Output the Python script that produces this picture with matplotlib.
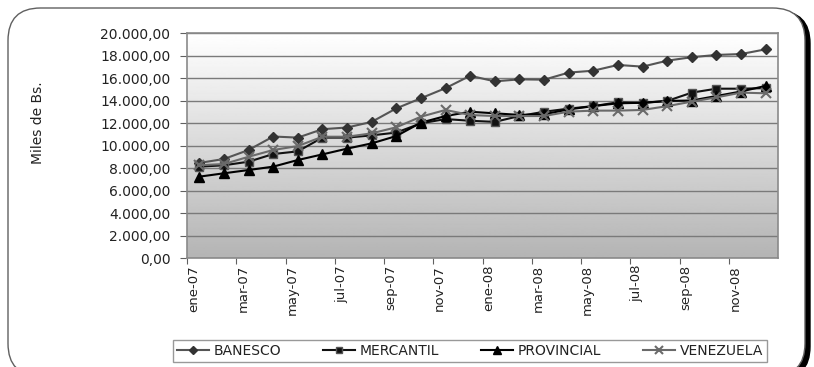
import numpy as np
import matplotlib.pyplot as plt
from matplotlib.patches import FancyBboxPatch
from matplotlib.ticker import FuncFormatter

# months ene-07 .. dic-08
meses = ['ene-07', 'feb-07', 'mar-07', 'abr-07', 'may-07', 'jun-07',
         'jul-07', 'ago-07', 'sep-07', 'oct-07', 'nov-07', 'dic-07',
         'ene-08', 'feb-08', 'mar-08', 'abr-08', 'may-08', 'jun-08',
         'jul-08', 'ago-08', 'sep-08', 'oct-08', 'nov-08', 'dic-08']

banesco = [8450, 8800, 9600, 10800, 10700, 11450, 11600, 12100, 13300, 14200,
           15100, 16200, 15700, 15880, 15850, 16480, 16650, 17160, 17010, 17540,
           17850, 18050, 18130, 18550]
mercantil = [8120, 8240, 8560, 9240, 9480, 10700, 10700, 10900, 11150, 11970,
             12350, 12200, 12100, 12620, 13000, 13280, 13500, 13840, 13780, 13960,
             14700, 15050, 15050, 15100]
provincial = [7230, 7530, 7820, 8120, 8710, 9210, 9720, 10190, 10840, 12030,
              12620, 13000, 12860, 12720, 12770, 13210, 13500, 13750, 13800, 13960,
              14000, 14400, 14800, 15300]
venezuela = [8250, 8350, 9000, 9600, 9950, 10780, 10780, 11080, 11620, 12560,
             13160, 12710, 12620, 12620, 12620, 13010, 13100, 13100, 13160, 13500,
             13900, 14280, 14700, 14640]

fig = plt.figure(figsize=(8.14, 3.67), dpi=100)

# rounded outer frame with dark shadow, kept behind the axes
shadow = FancyBboxPatch((11 / 814, -12 / 367), 799 / 814, 368 / 367,
                        boxstyle="round,pad=0,rounding_size=0.04",
                        transform=fig.transFigure, facecolor='black',
                        edgecolor='black', lw=1, mutation_aspect=814 / 367, zorder=-3)
frame = FancyBboxPatch((8 / 814, -9 / 367), 797 / 814, 368 / 367,
                       boxstyle="round,pad=0,rounding_size=0.04",
                       transform=fig.transFigure, facecolor='white',
                       edgecolor='#606060', lw=1, mutation_aspect=814 / 367, zorder=-2)
fig.patches.extend([shadow, frame])

ax = fig.add_axes([187 / 814, 1 - 258 / 367, 591 / 814, 225 / 367])
ax.set_facecolor('none')

# gradient background, white at top to gray at bottom
grad = np.linspace(1.0, 0.0, 256).reshape(-1, 1)
ax.imshow(grad, extent=[0, 1, 0, 1], transform=ax.transAxes, aspect='auto',
          cmap='gray', vmin=-2.4, vmax=1.0, zorder=0)

x = np.arange(len(meses))
ax.plot(x, banesco, color='#555555', lw=1.5, marker='D', ms=5,
        mfc='#333333', mec='#333333', label='BANESCO', zorder=3)
ax.plot(x, mercantil, color='#111111', lw=1.5, marker='s', ms=6,
        mfc='#111111', mec='#555555', label='MERCANTIL', zorder=3)
ax.plot(x, provincial, color='#000000', lw=1.5, marker='^', ms=7,
        mfc='#000000', mec='#000000', label='PROVINCIAL', zorder=3)
ax.plot(x, venezuela, color='#6a6a6a', lw=1.5, marker='x', ms=7, mew=1.5,
        label='VENEZUELA', zorder=3)

ax.set_xlim(-0.5, 23.5)
ax.set_ylim(0, 20000)
ax.set_yticks(np.arange(0, 20001, 2000))
ax.yaxis.set_major_formatter(FuncFormatter(
    lambda v, p: '{:,.2f}'.format(v).replace(',', 'X').replace('.', ',').replace('X', '.')))
ax.grid(axis='y', color='#7a7a7a', lw=1, zorder=1)
ax.set_axisbelow(True)

ax.set_xticks(np.arange(-0.5, 23.5, 2))
ax.set_xticklabels(meses[::2], rotation=90, ha='left', va='top')
ax.tick_params(axis='x', length=4, color='#606060', labelsize=9.5, colors='#222222', pad=1)
ax.tick_params(axis='y', length=5, color='#606060', labelsize=10, colors='#222222', pad=7)

for s in ax.spines.values():
    s.set_color('#8a8a8a')
    s.set_linewidth(1.2)

ax.set_ylabel('Miles de Bs.', fontsize=10, color='#222222')
ax.yaxis.set_label_coords(-0.24, 0.6)

leg = fig.legend(loc='lower left', ncol=4, mode='expand',
                 bbox_to_anchor=(173 / 814, 1 - 362 / 367, 594 / 814, 25 / 367),
                 fontsize=10, frameon=True, fancybox=False, handlelength=2.3,
                 markerscale=0.8, borderaxespad=0, borderpad=0.3, handletextpad=0.3)
leg.get_frame().set_edgecolor('#808080')
leg.get_frame().set_linewidth(1)
for t in leg.get_texts():
    t.set_color('#222222')

fig.savefig('out.png', dpi=100)
